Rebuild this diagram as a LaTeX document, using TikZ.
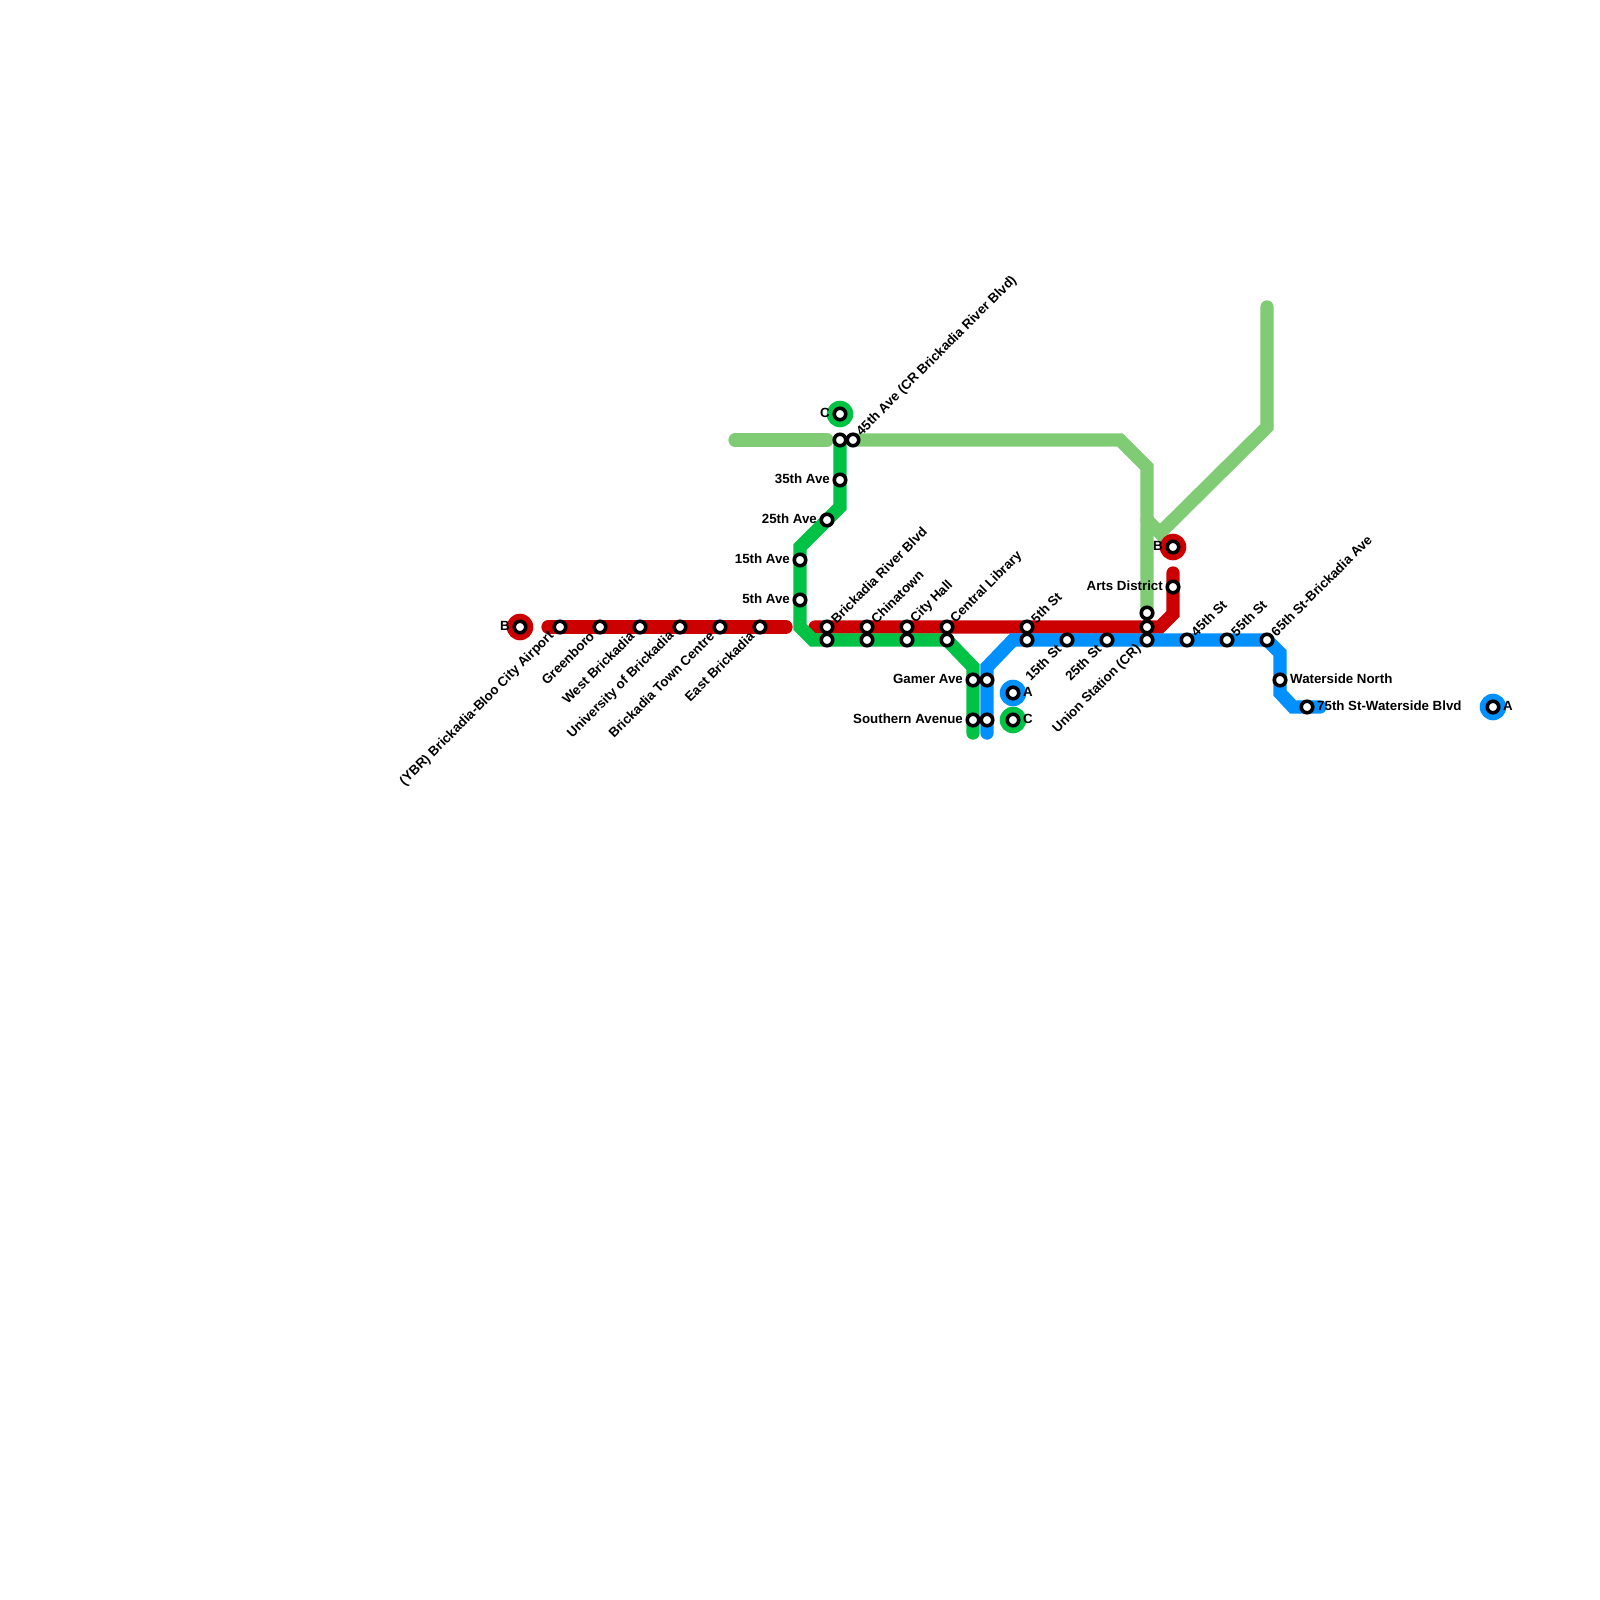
\documentclass[tikz,border=0pt]{standalone}
\usepackage{fontspec}
\setmainfont{Liberation Sans}
\definecolor{redline}{HTML}{CC0000}
\definecolor{greenline}{HTML}{00C244}
\definecolor{blueline}{HTML}{0090FF}
\definecolor{paleline}{HTML}{7FCC75}
\tikzset{
  metro/.style={line width=13.3pt,line cap=round,line join=miter},
  stn/.style={circle,draw=black,fill=white,line width=3.6pt,minimum size=11.5pt,inner sep=0pt,outer sep=0pt},
  ring/.style={circle,fill=#1,minimum size=26.6pt,inner sep=0pt,outer sep=0pt},
  lab/.style={font=\fontsize{13.3}{13.3}\selectfont\bfseries,inner sep=0pt,text=black},
}
\begin{document}
\begin{tikzpicture}[x=1pt,y=-1pt]
    \useasboundingbox (0,0) rectangle (1600,1600);
    % bends and line ends
    \foreach \n/\x/\y in {pa/735/440,pb/827/440,pc/853/440,pd/1120/440,pe/1147/467,pf/1147/613,
      pg/1147/520,ph/1160/533,pi/1267/427,pj/1267/307,
      ra/548/627,rb/786/627,rc/815/627,rd/1160/627,re/1173/614,rf/1173/573,
      ga/840/440,gb/840/507,gc/800/547,gd/800/627,ge/813/640,gf/947/640,gg/973/667,gh/973/733,
      ba/987/733,bb/987/667,bc/1013/640,bd/1267/640,be/1280/653,bf/1280/693,bg/1293/707,bh/1320/707}
      \coordinate (\n) at (\x,\y);
    \draw[metro,paleline] (pa)--(pb);
    \draw[metro,paleline] (pc)--(pd)--(pe)--(pf);
    \draw[metro,paleline] (pg)--(ph)--(pi)--(pj);
    \draw[metro,redline] (ra)--(rb);
    \draw[metro,redline] (rc)--(rd)--(re)--(rf);
    \draw[metro,greenline] (ga)--(gb)--(gc)--(gd)--(ge)--(gf)--(gg)--(gh);
    \draw[metro,blueline] (ba)--(bb)--(bc)--(bd)--(be)--(bf)--(bg)--(bh);
    % transfer discs
    \node[ring=redline] (rgb) at (520,627) {};
    \node[ring=redline] (rgbb) at (1173,547) {};
    \node[ring=greenline] (rgc) at (840,414) {};
    \node[ring=greenline] (rgcc) at (1013,720) {};
    \node[ring=blueline] (rga) at (1013,693) {};
    \node[ring=blueline] (rgaa) at (1493,707) {};
    % stations
    \foreach \n/\x/\y in {bw/520/627,air/560/627,gre/600/627,wes/640/627,uni/680/627,tow/720/627,eas/760/627,
      riv/827/627,riv2/827/640,chi/867/627,chi2/867/640,cit/907/627,cit2/907/640,lib/947/627,lib2/947/640,
      fif/1027/627,fif2/1027/640,fft/1067/640,twf/1107/640,un1/1147/613,un2/1147/627,un3/1147/640,
      art/1173/587,be2/1173/547,ffv/1187/640,fvf/1227/640,sxf/1267/640,wat/1280/680,sev/1307/707,ae/1493/707,
      cn/840/414,cn2/840/440,fft2/853/440,tfa/840/480,tfv/827/520,fth/800/560,fav/800/600,
      gam/973/680,gam2/987/680,sou/973/720,sou2/987/720,am/1013/693,cm/1013/720}
      \node[stn] (\n) at (\x,\y) {};
    % labels to the lower left
    \foreach \n/\t in {air/{(YBR) Brickadia-Bloo City Airport},gre/Greenboro,wes/West Brickadia,
      uni/University of Brickadia,tow/Brickadia Town Centre,eas/East Brickadia,
      fft/15th St,twf/25th St,un3/Union Station (CR)}
      \node[lab,rotate=45,anchor=east] (t\n) at ([xshift=-8pt,yshift=-7pt]\n) {\t};
    % labels to the upper right
    \foreach \n/\t in {fft2/{45th Ave (CR Brickadia River Blvd)},riv/Brickadia River Blvd,chi/Chinatown,
      cit/City Hall,lib/Central Library,fif/5th St,ffv/45th St,fvf/55th St,sxf/65th St-Brickadia Ave}
      \node[lab,rotate=45,anchor=west] (t\n) at ([xshift=6pt,yshift=6pt]\n) {\t};
    % labels to the left
    \foreach \n/\t in {bw/B,be2/B,cn/C,tfa/35th Ave,tfv/25th Ave,fth/15th Ave,fav/5th Ave,
      gam/Gamer Ave,sou/Southern Avenue,art/Arts District}
      \node[lab,anchor=east] (t\n) at ([xshift=-10pt,yshift=1.5pt]\n) {\t};
    % labels to the right
    \foreach \n/\t in {wat/Waterside North,sev/75th St-Waterside Blvd,am/A,cm/C,ae/A}
      \node[lab,anchor=west] (t\n) at ([xshift=10pt,yshift=1.5pt]\n) {\t};
  \end{tikzpicture}
\end{document}
